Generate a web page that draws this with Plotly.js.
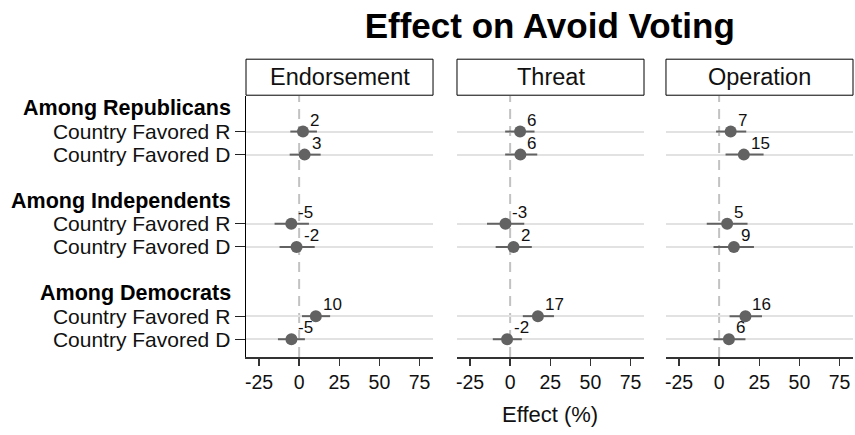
<!DOCTYPE html>
<html>
<head>
<meta charset="utf-8">
<script src="https://cdn.plot.ly/plotly-3.0.1.min.js"></script>
<style>html,body{margin:0;padding:0;background:#fff;}#chart{width:855px;height:435px;}</style>
</head>
<body>
<div id="chart"></div>
<script>
// ---- data ----
const groups = ['Among Republicans', 'Among Independents', 'Among Democrats'];
const conditions = ['Country Favored R', 'Country Favored D'];
const treatments = ['Endorsement', 'Threat', 'Operation'];
const xTickVals = [-25, 0, 25, 50, 75];
const xTickText = ['-25', '0', '25', '50', '75'];

// order: Rep-R, Rep-D, Ind-R, Ind-D, Dem-R, Dem-D
const endorsementEst = [2.4, 3.4, -4.9, -1.6, 10.4, -4.8];
const endorsementLo  = [-5.5, -5.9, -15.3, -12.2, 1.8, -13.2];
const endorsementHi  = [11.1, 13.4, 6.1, 9.7, 19.3, 3.6];

const threatEst = [6.2, 6.4, -2.9, 2.1, 17.3, -1.9];
const threatLo  = [-3.1, -3.1, -14.4, -9.0, 7.9, -10.8];
const threatHi  = [15.2, 16.9, 8.8, 13.5, 27.3, 7.3];

const operationEst = [7.2, 15.4, 5.0, 9.2, 16.4, 6.1];
const operationLo  = [-1.9, 4.0, -7.7, -3.5, 6.5, -3.5];
const operationHi  = [16.9, 27.7, 17.7, 21.7, 26.7, 16.4];

// ---- build ----
const FONT = 'Liberation Sans, Arial, sans-serif';
const rowPos = [];
const rowText = [];
groups.forEach((g, gi) => conditions.forEach((c, ci) => { rowPos.push(gi * 4 + 1 + ci); rowText.push(c); }));
const headerPos = groups.map((g, gi) => gi * 4);

const series = [
  [endorsementEst, endorsementLo, endorsementHi],
  [threatEst, threatLo, threatHi],
  [operationEst, operationLo, operationHi]
];
const domains = [[0, 0.3081], [0.3476, 0.6557], [0.6919, 1.0]];

const traces = series.map((s, i) => {
  const [est, lo, hi] = s;
  return {
    type: 'scatter',
    mode: 'markers',
    x: est,
    y: rowPos,
    xaxis: i === 0 ? 'x' : 'x' + (i + 1),
    yaxis: 'y',
    marker: {color: '#626262', size: 12},
    error_x: {
      type: 'data', symmetric: false,
      array: est.map((v, k) => hi[k] - v),
      arrayminus: est.map((v, k) => v - lo[k]),
      color: '#626262', thickness: 2, width: 0
    },
    showlegend: false,
    hoverinfo: 'x+y'
  };
});

const layout = {
  width: 855, height: 435,
  margin: {l: 246, r: 2, t: 96, b: 78},
  paper_bgcolor: '#fff', plot_bgcolor: '#fff',
  font: {family: FONT, color: '#111'},
  title: {text: '<b>Effect on Avoid Voting</b>', font: {family: FONT, size: 35, color: '#000'},
          x: 0.643, xanchor: 'center', y: 0.94, yanchor: 'middle'},
  yaxis: {
    range: [10.77, -0.54], tickmode: 'array', tickvals: rowPos, ticktext: rowText,
    ticks: 'outside', ticklen: 10, tickcolor: '#222', tickwidth: 1,
    showline: true, linecolor: '#000', linewidth: 1.5,
    showgrid: true, gridcolor: '#e2e2e2', gridwidth: 2, zeroline: false,
    tickfont: {family: FONT, size: 21, color: '#111'}
  },
  shapes: [],
  annotations: []
};

treatments.forEach((t, i) => {
  const ax = i === 0 ? 'xaxis' : 'xaxis' + (i + 1);
  const ref = i === 0 ? 'x' : 'x' + (i + 1);
  layout[ax] = {
    domain: domains[i], anchor: 'y', range: [-33.1, 83.4],
    tickmode: 'array', tickvals: xTickVals, ticktext: xTickText,
    ticks: 'outside', ticklen: 7, tickcolor: '#333', tickwidth: 1.5,
    showline: true, linecolor: '#333', linewidth: 2,
    showgrid: false, zeroline: false,
    tickfont: {family: FONT, size: 19.5, color: '#111'}
  };
  layout.shapes.push({
    type: 'line', xref: ref, yref: 'y domain', x0: 0, x1: 0, y0: 0, y1: 1,
    line: {color: '#c2c2c2', width: 2, dash: '10px,7px'}, layer: 'below'
  });
  layout.shapes.push({
    type: 'rect', xref: ref + ' domain', yref: 'paper', x0: 0, x1: 1, y0: 1.003, y1: 1.141,
    line: {color: '#000', width: 1}, fillcolor: '#fff'
  });
  layout.annotations.push({
    text: t, xref: ref + ' domain', yref: 'paper', x: 0.5, y: 1.072,
    xanchor: 'center', yanchor: 'middle', showarrow: false,
    font: {family: FONT, size: 23.5, color: '#111'}
  });
  // value labels
  const est = series[i][0];
  est.forEach((v, k) => {
    layout.annotations.push({
      text: String(Math.round(v)), xref: ref, yref: 'y', x: v, y: rowPos[k],
      xanchor: 'left', yanchor: 'bottom', xshift: 5, yshift: 0, showarrow: false,
      font: {family: FONT, size: 17, color: '#111'}
    });
  });
});

groups.forEach((g, gi) => {
  layout.annotations.push({
    text: '<b>' + g + '</b>', xref: 'paper', yref: 'y', x: 0, y: headerPos[gi],
    xanchor: 'right', yanchor: 'middle', xshift: -13, showarrow: false,
    font: {family: FONT, size: 21.5, color: '#000'}
  });
});

layout.annotations.push({
  text: 'Effect (%)', xref: 'paper', yref: 'paper', x: 0.5, y: -0.221,
  xanchor: 'center', yanchor: 'middle', showarrow: false,
  font: {family: FONT, size: 22, color: '#111'}
});

Plotly.newPlot('chart', traces, layout, {displayModeBar: false, staticPlot: true});
</script>
</body>
</html>
